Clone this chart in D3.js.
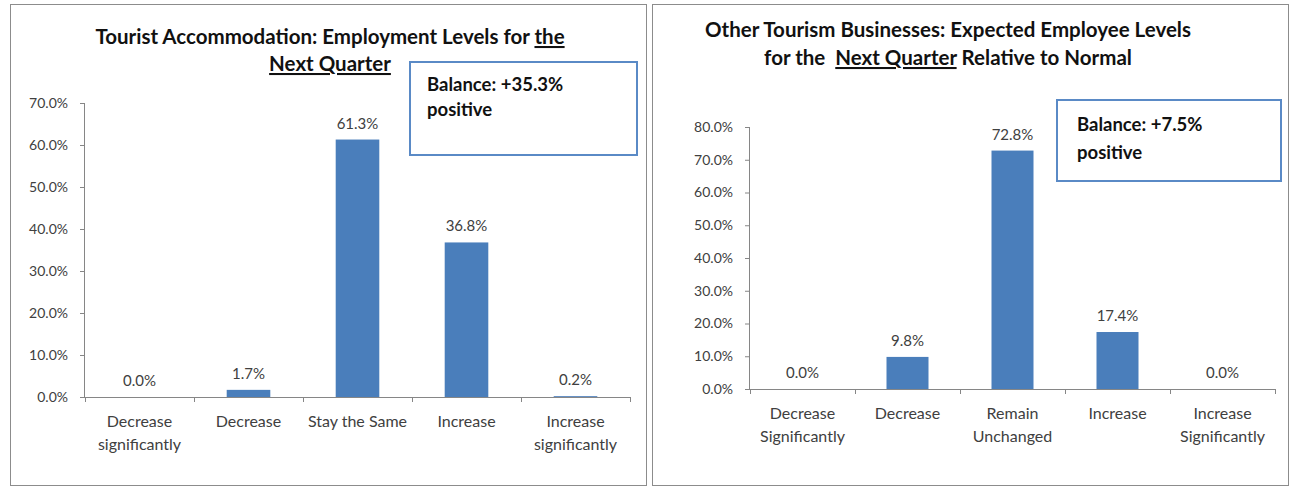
<!DOCTYPE html>
<html>
<head>
<meta charset="utf-8">
<script src="https://cdn.jsdelivr.net/npm/d3@7"></script>
<style>
  html, body { margin: 0; padding: 0; background: #ffffff; }
  svg { display: block; font-family: Lato, "Liberation Sans", sans-serif; }
</style>
</head>
<body>
<svg id="chart" width="1291" height="488"></svg>
<script>
// Tourist accommodation: expected employment next quarter
const accomCategories = [["Decrease", "significantly"], ["Decrease"], ["Stay the Same"], ["Increase"], ["Increase", "significantly"]];
const accomValues = [0.0, 1.7, 61.3, 36.8, 0.2];
const accomTicks = [0, 10, 20, 30, 40, 50, 60, 70];
const accomBalance = ["Balance: +35.3%", "positive"];

// Other tourism businesses: expected employee levels next quarter
const otherCategories = [["Decrease", "Significantly"], ["Decrease"], ["Remain", "Unchanged"], ["Increase"], ["Increase", "Significantly"]];
const otherValues = [0.0, 9.8, 72.8, 17.4, 0.0];
const otherTicks = [0, 10, 20, 30, 40, 50, 60, 70, 80];
const otherBalance = ["Balance: +7.5%", "positive"];

const BAR = "#4a7ebb";
const AXIS = "#868686";
const TEXT = "#404040";

const svg = d3.select("#chart");

function drawPanel(cfg) {
  const g = svg.append("g");

  // panel frame
  g.append("rect")
    .attr("x", cfg.frame[0] + 0.5).attr("y", cfg.frame[1] + 0.5)
    .attr("width", cfg.frame[2]).attr("height", cfg.frame[3])
    .attr("fill", "#fff").attr("stroke", "#8c8c8c").attr("stroke-width", 1);

  // title lines, with underlined runs
  cfg.title.forEach((line, i) => {
    const t = g.append("text")
      .attr("x", cfg.titleX).attr("y", cfg.titleY[i])
      .attr("text-anchor", "middle")
      .attr("font-size", 20.5).attr("font-weight", 700).attr("fill", "#111")
      .attr("xml:space", "preserve");
    line.forEach(seg => {
      t.append("tspan").text(seg.t)
        .attr("text-decoration", seg.u ? "underline" : null);
    });
  });

  const idx = d3.range(cfg.values.length);
  const x = d3.scaleBand().domain(idx).range([cfg.x0, cfg.x1]).padding(0);
  const y = d3.scaleLinear().domain([0, cfg.ymax]).range([cfg.y0, cfg.y1]);
  const barW = x.bandwidth() * 0.4;

  // y axis
  const yAxis = g.append("g")
    .attr("transform", `translate(${cfg.x0},0)`)
    .call(d3.axisLeft(y).tickValues(cfg.ticks).tickSize(5).tickPadding(12)
      .tickFormat(d => d3.format(".1f")(d) + "%"));
  yAxis.select(".domain").attr("stroke", AXIS).attr("d", `M-0.5,${cfg.y1}V${cfg.y0}`);
  yAxis.selectAll(".tick line").attr("stroke", AXIS);
  yAxis.selectAll(".tick text").attr("font-size", 14).attr("fill", TEXT)
    .attr("font-family", "Lato, sans-serif");

  // x axis baseline with tick marks at category boundaries
  const bounds = idx.map(i => x(i)).concat([cfg.x1]);
  g.append("line")
    .attr("x1", cfg.x0).attr("x2", cfg.x1)
    .attr("y1", cfg.y0 + 0.5).attr("y2", cfg.y0 + 0.5)
    .attr("stroke", AXIS);
  g.selectAll(".xtick").data(bounds).join("line")
    .attr("x1", d => d + 0.5).attr("x2", d => d + 0.5)
    .attr("y1", cfg.y0).attr("y2", cfg.y0 + 5)
    .attr("stroke", AXIS);

  // bars
  g.selectAll(".bar").data(cfg.values).join("rect")
    .attr("x", (d, i) => x(i) + (x.bandwidth() - barW) / 2)
    .attr("y", d => y(d))
    .attr("width", barW)
    .attr("height", d => cfg.y0 - y(d))
    .attr("fill", BAR);

  // value labels
  g.selectAll(".val").data(cfg.values).join("text")
    .attr("x", (d, i) => x(i) + x.bandwidth() / 2)
    .attr("y", d => y(d) - 11)
    .attr("text-anchor", "middle")
    .attr("font-size", 15).attr("fill", TEXT)
    .text(d => d3.format(".1f")(d) + "%");

  // category labels
  cfg.categories.forEach((lines, i) => {
    const t = g.append("text")
      .attr("x", x(i) + x.bandwidth() / 2)
      .attr("y", cfg.y0 + cfg.catDy)
      .attr("text-anchor", "middle")
      .attr("font-size", 16).attr("fill", TEXT);
    lines.forEach((l, j) => {
      t.append("tspan").attr("x", x(i) + x.bandwidth() / 2)
        .attr("dy", j === 0 ? 0 : 22.5).text(l);
    });
  });

  // balance callout
  const b = cfg.box;
  g.append("rect")
    .attr("x", b.x).attr("y", b.y).attr("width", b.w).attr("height", b.h)
    .attr("fill", "#fff").attr("stroke", "#5a8ac6").attr("stroke-width", 2);
  cfg.balance.forEach((l, j) => {
    g.append("text")
      .attr("x", b.x + b.tx).attr("y", b.y + b.ty + j * b.lh)
      .attr("font-size", 18.5).attr("font-weight", 700).attr("fill", "#111")
      .text(l);
  });
}

drawPanel({
  frame: [10, 4, 636, 481],
  title: [
    [{ t: "Tourist Accommodation: Employment Levels for " }, { t: "the", u: true }],
    [{ t: "Next Quarter", u: true }]
  ],
  titleX: 330, titleY: [44, 71],
  categories: accomCategories, values: accomValues, ticks: accomTicks,
  ymax: 70, x0: 85, x1: 630, y0: 397, y1: 103, catDy: 30,
  balance: accomBalance,
  box: { x: 410, y: 62, w: 227, h: 93, tx: 17, ty: 29, lh: 25 }
});

drawPanel({
  frame: [652, 4, 636, 481],
  title: [
    [{ t: "Other Tourism Businesses: Expected Employee Levels" }],
    [{ t: "for the  " }, { t: "Next Quarter", u: true }, { t: " Relative to Normal" }]
  ],
  titleX: 948, titleY: [37, 65],
  categories: otherCategories, values: otherValues, ticks: otherTicks,
  ymax: 80, x0: 750, x1: 1275, y0: 389, y1: 127, catDy: 30,
  balance: otherBalance,
  box: { x: 1057, y: 100, w: 224, h: 81, tx: 20, ty: 31, lh: 28 }
});
</script>
</body>
</html>
